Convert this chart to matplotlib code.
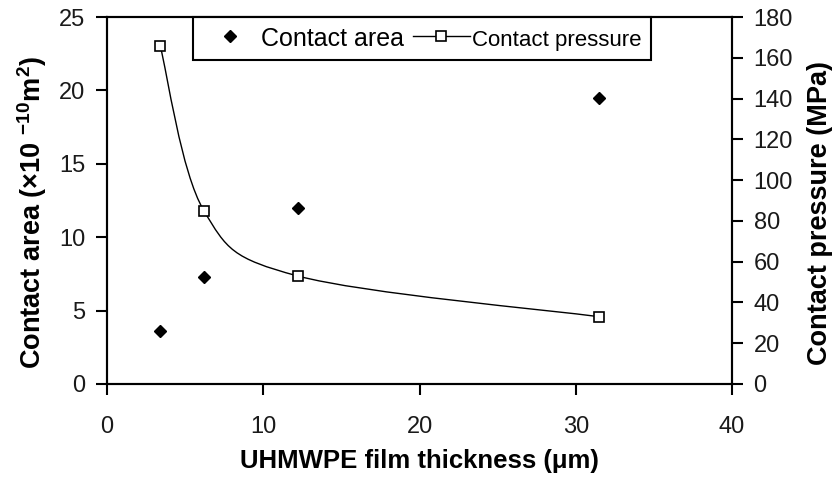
import numpy as np
import matplotlib as mpl
mpl.use("Agg")
import matplotlib.pyplot as plt
from matplotlib.path import Path
from matplotlib.patches import PathPatch
from matplotlib.lines import Line2D

plt.rcParams['font.family'] = ['Liberation Sans', 'DejaVu Sans']
plt.rcParams['mathtext.fontset'] = 'custom'
plt.rcParams['mathtext.rm'] = 'Liberation Sans:bold'
plt.rcParams['mathtext.bf'] = 'Liberation Sans:bold'
plt.rcParams['mathtext.default'] = 'bf'

# film thickness (um)
thickness = [3.4, 6.2, 12.2, 31.5]
# contact area (x10^-10 m^2)
area = [3.6, 7.3, 12.0, 19.5]
# contact pressure (MPa)
pressure = [166, 85, 53, 33]


def smooth_path(xs, ys):
    # excel-style smoothed line: cubic bezier segments through the points
    pts = np.column_stack([xs, ys]).astype(float)
    n = len(pts)
    verts = [pts[0]]
    codes = [Path.MOVETO]
    for i in range(n - 1):
        p0 = pts[max(i - 1, 0)]
        p1 = pts[i]
        p2 = pts[i + 1]
        p3 = pts[min(i + 2, n - 1)]
        c1 = p1 + (p2 - p0) / 6.0
        c2 = p2 - (p3 - p1) / 6.0
        verts += [c1, c2, p2]
        codes += [Path.CURVE4] * 3
    return Path(verts, codes)


fig = plt.figure(figsize=(8.34, 4.82), dpi=100)
ax = fig.add_axes([107 / 834, 1 - 384 / 482, 625 / 834, 367 / 482])
ax2 = ax.twinx()

ax.plot(thickness, area, linestyle='none', marker='D', ms=6,
        color='black', zorder=3)

ax2.add_patch(PathPatch(smooth_path(thickness, pressure), facecolor='none',
                        edgecolor='black', lw=1.0))
ax2.plot(thickness, pressure, linestyle='none', marker='s', ms=7,
         mfc='white', mec='black', mew=1.2, zorder=3)

ax.set_xlim(0, 40)
ax.set_ylim(0, 25)
ax2.set_ylim(0, 180)
ax.set_xticks(np.arange(0, 41, 10))
ax.set_yticks(np.arange(0, 26, 5))
ax2.set_yticks(np.arange(0, 181, 20))

for a in (ax, ax2):
    for s in a.spines.values():
        s.set_linewidth(1.5)
    a.tick_params(direction='out', length=8, width=1.5, labelsize=17,
                  labelcolor='#1a1a1a')
ax.tick_params(axis='x', pad=15)
ax.tick_params(axis='y', pad=7.5)
ax2.tick_params(axis='y', pad=7.5)

ax.set_xlabel('UHMWPE film thickness (μm)', fontsize=18.5,
              fontweight='bold', labelpad=8)
ax.set_ylabel(r'Contact area (×10 $^{-10}$m$^{2}$)', fontsize=19.5,
              fontweight='bold')
ax2.set_ylabel('Contact pressure (MPa)', fontsize=19.5, fontweight='bold')
ax.yaxis.set_label_coords(-0.093, 0.466)
ax2.yaxis.set_label_coords(1.12, 0.466)

handles = [
    Line2D([], [], linestyle='none', marker='D', ms=6, color='black'),
    Line2D([], [], color='black', lw=1.0, marker='s', ms=7, mfc='white',
           mec='black', mew=1.2),
]
leg = ax.legend(handles, ['Contact area', 'Contact pressure'], ncol=2,
                loc='upper left', bbox_to_anchor=(86 / 625, 1.0),
                fontsize=18, frameon=True, fancybox=False, framealpha=1,
                edgecolor='black', borderpad=0.35, handlelength=2.28,
                handleheight=1.1, handletextpad=0.1, columnspacing=0.34,
                borderaxespad=0)
leg.get_frame().set_linewidth(1.5)
leg.get_texts()[1].set_fontsize(16)
leg.set_zorder(5)

fig.savefig('out.png', dpi=100)
